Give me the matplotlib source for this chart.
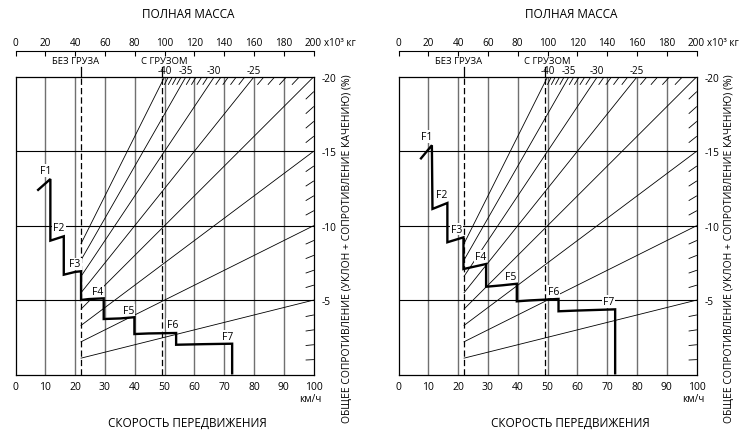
import matplotlib
matplotlib.use("Agg")
import matplotlib.pyplot as plt
import numpy as np

plt.rcParams['font.family'] = ['Open Sans', 'DejaVu Sans']

W, H = 756, 435

# ---------------- data ----------------
speed_ticks = list(range(0, 101, 10))
mass_ticks = list(range(0, 201, 20))
grades_major = [5, 10, 15, 20, 25, 30, 35, 40]
grades_side = [1, 2, 3, 4, 6, 7, 8, 9, 11, 12, 13, 14, 16, 17, 18, 19]
grades_top = [21, 22, 23, 24, 26, 27, 28, 29, 31, 32, 33, 34, 36, 37, 38, 39]
grade_top_labels = [40, 35, 30, 25]
grade_side_labels = [5, 10, 15, 20]
empty_mass = 44.0
loaded_mass = 98.6
gear_names = ['F1', 'F2', 'F3', 'F4', 'F5', 'F6', 'F7']

left_speed = [7.3, 11.7, 11.7, 16.2, 16.2, 20.1, 22.0, 22.0, 24.6, 29.6, 29.6,
              35.2, 39.9, 39.9, 44.7, 53.9, 53.9, 63.2, 72.7, 72.7]
left_force = [12.36, 13.14, 9.0, 9.29, 6.71, 6.9, 6.94, 5.01, 5.07, 5.12, 3.73,
              3.77, 3.85, 2.72, 2.76, 2.79, 2.0, 2.04, 2.07, 0.0]

right_speed = [7.3, 11.2, 11.4, 16.4, 16.4, 21.8, 21.8, 29.4, 29.4, 35.0, 39.7,
               39.7, 44.0, 53.7, 53.7, 60.0, 72.7, 72.7]
right_force = [14.47, 15.41, 11.13, 11.53, 8.89, 9.22, 7.09, 7.43, 5.90, 6.0, 6.10,
               4.92, 4.98, 5.08, 4.25, 4.30, 4.38, 0.0]

# ---------------- layout ----------------
BOX_L = 15.5
BOX_W = 298.0
BOX_TOP = 78.0
BOX_BOT = 375.5
PX_PER_Y = (BOX_BOT - BOX_TOP) / 20.0
PANEL_SHIFT = 383.0

left_label_pos = [(10.1, 13.7), (14.6, 9.85), (20.0, 7.43), (27.6, 5.57),
                  (37.9, 4.29), (52.6, 3.39), (71.2, 2.54)]
right_label_pos = [(9.5, 16.0), (14.5, 12.13), (19.5, 9.78), (27.6, 7.95),
                   (37.8, 6.57), (52.0, 5.57), (70.4, 4.89)]


def ydata(py):
    return (BOX_BOT - py) / PX_PER_Y


fig = plt.figure(figsize=(W / 100, H / 100), dpi=100)
fig.patch.set_facecolor('white')


def panel(shift, speed, force, label_pos):
    x0 = BOX_L + shift
    ax = fig.add_axes([x0 / W, (H - BOX_BOT) / H, BOX_W / W, (BOX_BOT - BOX_TOP) / H])
    ax.set_xlim(0, 100)
    ax.set_ylim(0, 20)
    for s in ax.spines.values():
        s.set_linewidth(0.9)
        s.set_color('black')

    # grid
    for v in speed_ticks[1:-1]:
        ax.axvline(v, color='#707070', lw=1.0, zorder=1)
    for h in [5, 10, 15]:
        ax.axhline(h, color='black', lw=0.8, zorder=1)

    # grade lines (force proportional to mass x grade)
    for g in grades_major:
        m_end = min(200.0, 4000.0 / g)
        m = np.array([empty_mass, m_end])
        ax.plot(m / 2, m * g / 200.0, color='black', lw=0.6, zorder=2)
    for g in grades_side:
        m = np.array([195.0, 200.0])
        ax.plot(m / 2, m * g / 200.0, color='black', lw=0.6, zorder=2)
    for g in grades_top:
        m = np.array([19.5 * 200.0 / g, 4000.0 / g])
        ax.plot(m / 2, m * g / 200.0, color='black', lw=0.6, zorder=2)

    # empty / loaded mass lines
    for mm in [empty_mass, loaded_mass]:
        ax.plot([mm / 2, mm / 2], [0, 20], color='black', lw=0.9,
                ls=(0, (5, 2.5)), zorder=3)
        ax.plot([mm / 2, mm / 2], [20, ydata(67.5)], color='black', lw=0.9,
                zorder=3, clip_on=False)

    # retarder curve
    ax.plot(speed, force, color='black', lw=1.7, zorder=6,
            solid_joinstyle='miter', solid_capstyle='butt')
    for name, (lx, ly) in zip(gear_names, label_pos):
        ax.text(lx, ly, name, ha='center', va='center', fontsize=7.5, zorder=5,
                bbox=dict(facecolor='white', edgecolor='none', pad=0.6))

    # bottom speed axis
    ax.set_xticks(speed_ticks)
    ax.tick_params(axis='x', length=0, pad=5, labelsize=7.5)
    ax.text(98.8, ydata(400), 'км/ч', ha='center', va='center', fontsize=7.2,
            clip_on=False)

    # right grade labels
    ax.yaxis.tick_right()
    ax.set_yticks(grade_side_labels)
    ax.set_yticklabels(['-%d' % g for g in grade_side_labels])
    ax.tick_params(axis='y', length=0, pad=6, labelsize=7.3)

    # top grade labels
    for g in grade_top_labels:
        ax.text(2000.0 / g, 20.08, '-%d' % g, ha='center', va='bottom',
                fontsize=7, clip_on=False)

    # mass axis
    loc = (BOX_BOT - 52.0) / (BOX_BOT - BOX_TOP)
    sec = ax.secondary_xaxis(loc, functions=(lambda s: s * 2.0, lambda m: m / 2.0))
    sec.set_xticks(mass_ticks)
    sec.tick_params(direction='in', length=3.5, width=0.8, pad=2, labelsize=7.2)
    sec.spines['top'].set_linewidth(0.8)

    ax.text(empty_mass / 2 - 2.0, ydata(61), 'БЕЗ ГРУЗА', ha='center', va='center',
            fontsize=6.8, clip_on=False)
    ax.text(loaded_mass / 2 + 0.5, ydata(61), 'С ГРУЗОМ', ha='center', va='center',
            fontsize=6.8, clip_on=False)

    fig.text((x0 + BOX_W + 10.5) / W, 1 - 43 / H, 'x10³ кг', ha='left', va='center',
             fontsize=7)
    fig.text((188 + shift) / W, 1 - 15 / H, 'ПОЛНАЯ МАССА', ha='center', va='center',
             fontsize=8.5)
    fig.text((187 + shift) / W, 1 - 423 / H, 'СКОРОСТЬ ПЕРЕДВИЖЕНИЯ', ha='center',
             va='center', fontsize=8.5)
    fig.text((347 + shift) / W, 1 - 249 / H,
             'ОБЩЕЕ СОПРОТИВЛЕНИЕ (УКЛОН + СОПРОТИВЛЕНИЕ КАЧЕНИЮ) (%)',
             rotation=90, ha='center', va='center', fontsize=7.5)
    return ax


panel(0.0, left_speed, left_force, left_label_pos)
panel(PANEL_SHIFT, right_speed, right_force, right_label_pos)

fig.savefig('out.png', dpi=100, facecolor='white')
